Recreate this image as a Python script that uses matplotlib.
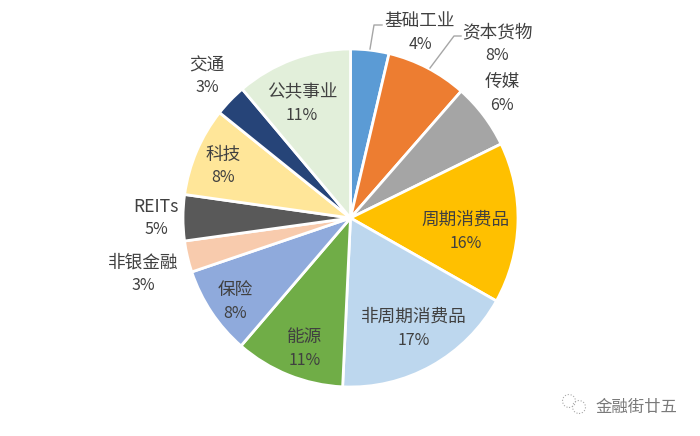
import matplotlib
matplotlib.use('Agg')
import matplotlib.pyplot as plt
from matplotlib.lines import Line2D
from matplotlib.patches import Circle

plt.rcParams['font.family'] = ['Noto Sans CJK SC', 'DejaVu Sans']

labels = ['基础工业', '资本货物', '传媒', '周期消费品', '非周期消费品', '能源', '保险', '非银金融', 'REITs', '科技', '交通', '公共事业']
# 标签上的百分比
pct_labels = ['4%', '8%', '6%', '16%', '17%', '11%', '8%', '3%', '5%', '8%', '3%', '11%']
# 扇区大小按图上的角度估计
values = [3.7, 7.8, 6.3, 15.4, 17.6, 10.6, 8.5, 3.0, 4.4, 8.5, 3.1, 11.2]
colors = ['#5B9BD5', '#ED7D31', '#A5A5A5', '#FFC000', '#BDD7EE', '#70AD47', '#8FAADC', '#F8CBAD', '#595959', '#FFE699', '#264478', '#E2EFDA']

W, H = 700, 436


def fx(x):
    return x / W


def fy(y):
    return 1 - y / H


fig = plt.figure(figsize=(7, 4.36), dpi=100)
# 饼图的位置按像素算好
ax = fig.add_axes([fx(183), fy(387), 335 / W, 338 / H])
ax.pie(values, colors=colors, startangle=90, counterclock=False,
       wedgeprops=dict(edgecolor='white', linewidth=2), radius=1)
ax.set_xlim(-1, 1)
ax.set_ylim(-1, 1)
ax.set_aspect('auto')

txt = [(420, 32), (497, 43), (502, 94), (466, 231), (414, 328), (305, 348), (235, 301), (143, 274), (156, 218), (223, 166), (207, 76), (302, 103)]
for name, p, (x, y) in zip(labels, pct_labels, txt):
    fig.text(fx(x), fy(y - 11), name, ha='center', va='center', fontsize=12.7, color='#404040')
    fig.text(fx(x), fy(y + 12), p, ha='center', va='center', fontsize=11.5, color='#404040')

# 两条引导线
for xs, ys in [([370, 374, 382], [49, 25, 25]), ([430, 454, 461], [68, 36, 36])]:
    fig.add_artist(Line2D([fx(v) for v in xs], [fy(v) for v in ys], color='#A6A6A6', linewidth=1))

# 右下角水印
fig.text(fx(636), fy(407), '金融街廿五', ha='center', va='center', fontsize=11.8, color='#7A7A7A')
for cx, cy, r in [(569, 401, 6.5), (579, 407, 6.5)]:
    fig.add_artist(Circle((cx, H - cy), r, transform=None, fill=False,
                          edgecolor='#A8A8A8', linewidth=0.8, linestyle=':'))
fig.savefig('out.png', dpi=100)
